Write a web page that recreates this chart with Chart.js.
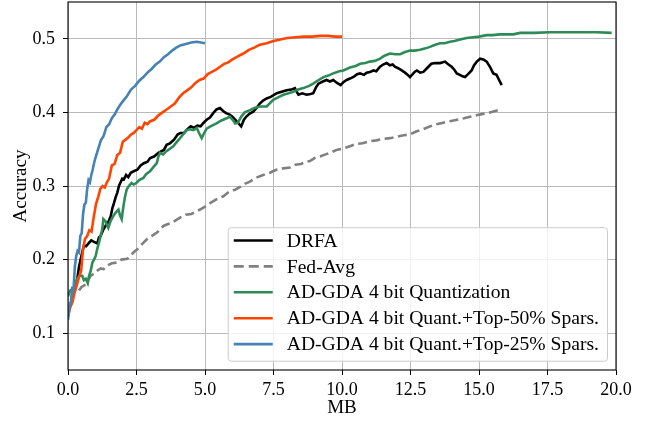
<!DOCTYPE html>
<html>
<head>
<meta charset="utf-8">
<script src="https://cdn.jsdelivr.net/npm/chart.js@4.4.1/dist/chart.umd.min.js"></script>
<style>
  html, body { margin: 0; padding: 0; background: #fff; }
  canvas { display: block; }
</style>
</head>
<body>
<canvas id="accChart" width="650" height="421"></canvas>
<script>
// accuracy vs communicated MB as [MB, accuracy]
const drfa = [
  [0, 0.13], [0.1, 0.14], [0.22, 0.16], [0.34, 0.174], [0.4, 0.19], [0.46, 0.2], [0.52, 0.21], [0.58, 0.219],
  [0.66, 0.218], [0.77, 0.223], [0.85, 0.226], [0.95, 0.224], [1.07, 0.222], [1.13, 0.23], [1.19, 0.232],
  [1.28, 0.24], [1.37, 0.246], [1.46, 0.25], [1.56, 0.259], [1.62, 0.27], [1.68, 0.277], [1.74, 0.285],
  [1.8, 0.291], [1.86, 0.3], [1.92, 0.305], [1.98, 0.31], [2.04, 0.309], [2.12, 0.315], [2.2, 0.312],
  [2.29, 0.318], [2.4, 0.32], [2.53, 0.322], [2.65, 0.328], [2.77, 0.331], [2.9, 0.333], [3.0, 0.338],
  [3.14, 0.34], [3.3, 0.345], [3.5, 0.349], [3.6, 0.356], [3.72, 0.358], [3.87, 0.363], [4.0, 0.37],
  [4.1, 0.372], [4.23, 0.372], [4.35, 0.377], [4.48, 0.381], [4.6, 0.379], [4.72, 0.382], [4.84, 0.381],
  [4.95, 0.386], [5.06, 0.39], [5.18, 0.393], [5.3, 0.399], [5.42, 0.404], [5.55, 0.406], [5.66, 0.402],
  [5.77, 0.399], [5.9, 0.397], [6.0, 0.394], [6.1, 0.39], [6.2, 0.386], [6.32, 0.381], [6.42, 0.39],
  [6.5, 0.394], [6.62, 0.398], [6.76, 0.401], [6.88, 0.406], [7.0, 0.412], [7.12, 0.416], [7.25, 0.419],
  [7.4, 0.421], [7.62, 0.426], [7.8, 0.428], [7.98, 0.43], [8.15, 0.431], [8.28, 0.433], [8.35, 0.428],
  [8.41, 0.424], [8.55, 0.426], [8.71, 0.424], [8.85, 0.425], [8.95, 0.426], [9.05, 0.434], [9.14, 0.439],
  [9.3, 0.442], [9.44, 0.444], [9.56, 0.442], [9.68, 0.444], [9.82, 0.44], [9.95, 0.437], [10.05, 0.441],
  [10.17, 0.444], [10.29, 0.446], [10.45, 0.449], [10.55, 0.452], [10.66, 0.453], [10.8, 0.451],
  [10.9, 0.454], [11.02, 0.455], [11.15, 0.457], [11.25, 0.456], [11.39, 0.462], [11.5, 0.465],
  [11.63, 0.467], [11.75, 0.464], [11.85, 0.465], [11.93, 0.462], [12.05, 0.46], [12.18, 0.457],
  [12.3, 0.454], [12.4, 0.451], [12.48, 0.448], [12.58, 0.452], [12.65, 0.455], [12.73, 0.457],
  [12.85, 0.454], [12.97, 0.455], [13.1, 0.46], [13.26, 0.466], [13.4, 0.467], [13.58, 0.467],
  [13.68, 0.468], [13.76, 0.469], [13.85, 0.466], [14.0, 0.462], [14.1, 0.458], [14.19, 0.453],
  [14.3, 0.451], [14.4, 0.449], [14.49, 0.448], [14.6, 0.452], [14.73, 0.457], [14.82, 0.464],
  [14.92, 0.469], [15.04, 0.473], [15.16, 0.472], [15.28, 0.469], [15.4, 0.462], [15.52, 0.453],
  [15.64, 0.451], [15.72, 0.445], [15.83, 0.437]
];

const fedAvg = [
  [0, 0.13], [0.1, 0.145], [0.2, 0.155], [0.3, 0.16], [0.4, 0.158], [0.5, 0.163], [0.6, 0.165], [0.7, 0.17],
  [0.83, 0.178], [0.95, 0.181], [1.07, 0.185], [1.2, 0.188], [1.3, 0.187], [1.43, 0.192], [1.6, 0.195],
  [1.8, 0.196], [1.95, 0.2], [2.16, 0.201], [2.3, 0.206], [2.4, 0.21], [2.53, 0.214], [2.7, 0.221],
  [2.89, 0.228], [3.05, 0.232], [3.26, 0.237], [3.4, 0.243], [3.5, 0.246], [3.7, 0.249], [3.87, 0.252],
  [4.09, 0.257], [4.3, 0.261], [4.5, 0.262], [4.7, 0.266], [4.82, 0.268], [5.0, 0.272], [5.2, 0.277],
  [5.43, 0.282], [5.67, 0.286], [5.91, 0.293], [6.1, 0.295], [6.3, 0.299], [6.45, 0.303], [6.64, 0.306],
  [6.85, 0.311], [7.05, 0.314], [7.2, 0.316], [7.37, 0.318], [7.6, 0.322], [7.85, 0.324], [8.1, 0.325],
  [8.3, 0.329], [8.5, 0.33], [8.7, 0.333], [8.83, 0.334], [9.0, 0.338], [9.2, 0.34], [9.4, 0.343],
  [9.56, 0.345], [9.8, 0.349], [10.05, 0.351], [10.29, 0.354], [10.5, 0.357], [10.75, 0.358],
  [11.02, 0.361], [11.25, 0.362], [11.5, 0.364], [11.75, 0.365], [12.0, 0.367], [12.25, 0.369],
  [12.48, 0.37], [12.7, 0.374], [12.95, 0.377], [13.21, 0.381], [13.45, 0.384], [13.7, 0.386],
  [13.94, 0.388], [14.2, 0.39], [14.45, 0.392], [14.67, 0.394], [14.9, 0.396], [15.15, 0.398],
  [15.4, 0.4], [15.7, 0.403]
];

const quant4 = [
  [0, 0.15], [0.08, 0.158], [0.16, 0.16], [0.25, 0.165], [0.34, 0.174], [0.42, 0.178], [0.52, 0.178],
  [0.58, 0.172], [0.65, 0.174], [0.72, 0.168], [0.77, 0.178], [0.83, 0.185], [0.89, 0.196], [0.95, 0.2],
  [1.01, 0.205], [1.07, 0.215], [1.13, 0.223], [1.19, 0.232], [1.25, 0.241], [1.29, 0.255], [1.37, 0.252],
  [1.43, 0.246], [1.47, 0.243], [1.55, 0.252], [1.65, 0.259], [1.74, 0.264], [1.84, 0.268], [1.9, 0.26],
  [1.96, 0.255], [2.02, 0.272], [2.08, 0.285], [2.14, 0.295], [2.22, 0.3], [2.32, 0.304], [2.4, 0.302],
  [2.49, 0.304], [2.6, 0.308], [2.75, 0.311], [2.85, 0.316], [2.99, 0.32], [3.1, 0.325], [3.24, 0.331],
  [3.3, 0.34], [3.36, 0.345], [3.47, 0.343], [3.58, 0.347], [3.7, 0.35], [3.84, 0.354], [3.95, 0.359],
  [4.09, 0.365], [4.2, 0.37], [4.33, 0.376], [4.45, 0.377], [4.58, 0.376], [4.7, 0.379], [4.78, 0.372],
  [4.88, 0.365], [4.97, 0.372], [5.06, 0.378], [5.2, 0.381], [5.42, 0.385], [5.6, 0.389], [5.79, 0.392],
  [5.91, 0.394], [6.03, 0.389], [6.1, 0.385], [6.2, 0.386], [6.32, 0.394], [6.45, 0.4], [6.64, 0.403],
  [6.8, 0.406], [7.0, 0.408], [7.25, 0.408], [7.49, 0.417], [7.65, 0.42], [7.86, 0.424], [8.05, 0.426],
  [8.22, 0.428], [8.4, 0.431], [8.59, 0.433], [8.8, 0.436], [8.95, 0.439], [9.15, 0.444], [9.32, 0.448],
  [9.5, 0.45], [9.68, 0.453], [9.9, 0.456], [10.05, 0.457], [10.29, 0.461], [10.5, 0.463], [10.66, 0.466],
  [10.85, 0.467], [11.02, 0.469], [11.2, 0.47], [11.39, 0.473], [11.55, 0.477], [11.75, 0.48],
  [11.95, 0.479], [12.12, 0.479], [12.3, 0.482], [12.48, 0.484], [12.65, 0.484], [12.85, 0.485],
  [13.05, 0.487], [13.21, 0.489], [13.4, 0.492], [13.58, 0.494], [13.75, 0.494], [13.94, 0.496],
  [14.1, 0.497], [14.31, 0.499], [14.55, 0.501], [14.79, 0.502], [15.0, 0.503], [15.28, 0.505],
  [15.5, 0.505], [15.77, 0.506], [16.0, 0.506], [16.25, 0.506], [16.5, 0.508], [17.0, 0.508],
  [17.59, 0.509], [18.2, 0.509], [18.8, 0.509], [19.3, 0.509], [19.84, 0.508]
];

const top50 = [
  [0, 0.122], [0.08, 0.135], [0.16, 0.142], [0.24, 0.155], [0.32, 0.165], [0.4, 0.176], [0.48, 0.185],
  [0.55, 0.215], [0.62, 0.228], [0.7, 0.232], [0.78, 0.24], [0.86, 0.238], [0.94, 0.258], [1.02, 0.275],
  [1.1, 0.285], [1.18, 0.296], [1.26, 0.3], [1.34, 0.298], [1.42, 0.305], [1.5, 0.31], [1.6, 0.328],
  [1.7, 0.33], [1.8, 0.342], [1.9, 0.345], [2.0, 0.36], [2.1, 0.363], [2.2, 0.366], [2.3, 0.37],
  [2.4, 0.372], [2.5, 0.376], [2.6, 0.38], [2.7, 0.378], [2.8, 0.386], [2.9, 0.384], [3.0, 0.388],
  [3.15, 0.39], [3.3, 0.396], [3.45, 0.4], [3.6, 0.404], [3.75, 0.408], [3.9, 0.412], [4.05, 0.42],
  [4.2, 0.426], [4.35, 0.43], [4.5, 0.434], [4.65, 0.44], [4.8, 0.444], [4.95, 0.446], [5.1, 0.452],
  [5.25, 0.455], [5.4, 0.458], [5.55, 0.462], [5.7, 0.466], [5.85, 0.468], [6.0, 0.472], [6.2, 0.476],
  [6.4, 0.48], [6.6, 0.485], [6.8, 0.488], [7.0, 0.492], [7.25, 0.494], [7.5, 0.497], [7.75, 0.499],
  [8.0, 0.501], [8.3, 0.502], [8.6, 0.503], [8.9, 0.503], [9.2, 0.504], [9.5, 0.504], [9.75, 0.503],
  [10.0, 0.503]
];

const top25 = [
  [0, 0.118], [0.05, 0.135], [0.1, 0.14], [0.15, 0.16], [0.2, 0.158], [0.25, 0.19], [0.3, 0.205],
  [0.35, 0.212], [0.4, 0.21], [0.45, 0.232], [0.5, 0.236], [0.55, 0.262], [0.6, 0.275], [0.65, 0.277],
  [0.7, 0.296], [0.75, 0.308], [0.8, 0.305], [0.85, 0.315], [0.9, 0.322], [0.95, 0.331], [1.0, 0.338],
  [1.1, 0.35], [1.2, 0.362], [1.3, 0.368], [1.4, 0.38], [1.5, 0.384], [1.6, 0.392], [1.7, 0.397],
  [1.8, 0.404], [1.9, 0.41], [2.0, 0.415], [2.15, 0.422], [2.3, 0.431], [2.45, 0.436], [2.6, 0.443],
  [2.75, 0.448], [2.9, 0.454], [3.05, 0.459], [3.2, 0.465], [3.35, 0.469], [3.5, 0.475], [3.65, 0.479],
  [3.8, 0.484], [3.95, 0.488], [4.1, 0.491], [4.3, 0.493], [4.5, 0.495], [4.7, 0.496], [4.85, 0.495],
  [5.0, 0.494]
];

const xTicks = [0, 2.5, 5, 7.5, 10, 12.5, 15, 17.5, 20];
const yTicks = [0.1, 0.2, 0.3, 0.4, 0.5];

const FONT = '"Liberation Serif", "Times New Roman", serif';
const GRID = '#b9b9b9';

const series = [
  { label: 'DRFA', pts: drfa, color: '#000000', dash: [] },
  { label: 'Fed-Avg', pts: fedAvg, color: '#808080', dash: [9, 4.5] },
  { label: 'AD-GDA 4 bit Quantization', pts: quant4, color: '#2e8b57', dash: [] },
  { label: 'AD-GDA 4 bit Quant.+Top-50% Spars.', pts: top50, color: '#ff4500', dash: [] },
  { label: 'AD-GDA 4 bit Quant.+Top-25% Spars.', pts: top25, color: '#4682b4', dash: [] }
];

// frame + matplotlib-style legend in the lower right corner
const frameAndLegend = {
  id: 'frameAndLegend',
  afterDraw(chart) {
    const { ctx, chartArea: a } = chart;
    ctx.save();
    ctx.strokeStyle = '#000';
    ctx.lineWidth = 1.1;
    ctx.strokeRect(a.left, a.top, a.right - a.left, a.bottom - a.top);

    ctx.font = '19.6px ' + FONT;
    const textW = Math.max(...series.map(s => ctx.measureText(s.label).width));
    const w = 6 + 39 + 14 + textW + 8;
    const h = 133.5;
    const right = a.right - 9;
    const bottom = a.bottom - 9.3;
    const left = right - w;
    const top = bottom - h;

    ctx.beginPath();
    ctx.roundRect(left + 0.5, top + 0.5, w, h, 3);
    ctx.fillStyle = 'rgba(255,255,255,0.8)';
    ctx.fill();
    ctx.strokeStyle = '#cccccc';
    ctx.lineWidth = 1;
    ctx.stroke();

    series.forEach((s, i) => {
      const cy = top + 13.3 + i * 25.9;
      ctx.beginPath();
      ctx.setLineDash(s.dash.length ? [10, 5] : []);
      ctx.strokeStyle = s.color;
      ctx.lineWidth = 2.6;
      ctx.moveTo(left + 6, cy);
      ctx.lineTo(left + 45, cy);
      ctx.stroke();
      ctx.setLineDash([]);
      ctx.fillStyle = '#000';
      ctx.textBaseline = 'middle';
      ctx.textAlign = 'left';
      ctx.fillText(s.label, left + 59, cy + 1);
    });
    ctx.restore();
  }
};

new Chart(document.getElementById('accChart'), {
  type: 'line',
  data: {
    datasets: series.map((s, i) => ({
      label: s.label,
      data: s.pts.map(p => ({ x: p[0], y: p[1] })),
      borderColor: s.color,
      borderDash: s.dash,
      borderWidth: 2.6,
      pointRadius: 0,
      tension: 0,
      fill: false,
      order: series.length - i
    }))
  },
  options: {
    responsive: false,
    animation: false,
    devicePixelRatio: 1,
    layout: { padding: { left: 0, right: 34, top: 2, bottom: 0 } },
    plugins: { legend: { display: false }, tooltip: { enabled: false } },
    scales: {
      x: {
        type: 'linear',
        min: 0,
        max: 20,
        afterBuildTicks: s => { s.ticks = xTicks.map(v => ({ value: v })); },
        afterFit: s => { s.height = 51; s.paddingLeft = 0; s.paddingRight = 0; },
        grid: { color: GRID, lineWidth: 1, tickLength: 5, tickColor: '#000' },
        border: { display: false },
        ticks: {
          color: '#000',
          padding: 4,
          maxRotation: 0,
          font: { family: FONT, size: 18 },
          callback: v => Number(v).toFixed(1)
        },
        title: { display: true, text: 'MB', color: '#000', font: { family: FONT, size: 19 }, padding: { top: 0, bottom: 2 } }
      },
      y: {
        type: 'linear',
        min: 0.05,
        max: 0.55,
        afterBuildTicks: s => { s.ticks = yTicks.map(v => ({ value: v })); },
        afterFit: s => { s.width = 68; s.paddingTop = 0; s.paddingBottom = 0; },
        grid: { color: GRID, lineWidth: 1, tickLength: 5, tickColor: '#000' },
        border: { display: false },
        ticks: {
          color: '#000',
          padding: 8,
          font: { family: FONT, size: 18 },
          callback: v => Number(v).toFixed(1)
        },
        title: { display: true, text: 'Accuracy', color: '#000', font: { family: FONT, size: 19 }, padding: { top: 10, bottom: 0 } }
      }
    }
  },
  plugins: [frameAndLegend]
});
</script>
</body>
</html>
